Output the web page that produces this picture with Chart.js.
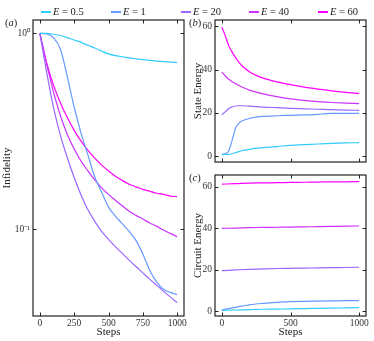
<!DOCTYPE html>
<html><head><meta charset="utf-8">
<script src="https://cdn.jsdelivr.net/npm/chart.js@4/dist/chart.umd.min.js"></script>
<style>
html,body{margin:0;padding:0;background:#fff;}
#wrap{position:relative;width:374px;height:341px;overflow:hidden;font-family:'Liberation Serif',serif;color:#222;}
canvas{position:absolute;left:0;top:0;pointer-events:none;}
.lg{position:absolute;top:5px;height:14px;font-size:10.5px;line-height:14px;white-space:nowrap;}
.sw{position:absolute;left:0;top:6px;width:10px;height:2px;}
.lt{position:absolute;left:12px;top:0;}
.pl{position:absolute;font-size:10.5px;font-family:'Liberation Serif',serif;}
</style></head>
<body><div id="wrap">
<canvas id="ca" width="374" height="341"></canvas>
<canvas id="cb" width="374" height="341"></canvas>
<canvas id="cc" width="374" height="341"></canvas>
<div id="legend"></div>
<div class="pl" style="left:5px;top:17px">(<i>a</i>)</div>
<div class="pl" style="left:189px;top:17px">(<i>b</i>)</div>
<div class="pl" style="left:189px;top:172px">(<i>c</i>)</div>
</div>
<script>
// ---- data ----
const labelsE = ['0.5', '1', '20', '40', '60'];
const colors = ['#33ccff', '#6699ff', '#9966ff', '#cc33ff', '#ff00ff'];

const stepsA = [0,50,100,150,200,250,300,350,400,450,500,550,600,650,700,750,800,850,900,950,1000];
const infE05 = [1.0,1.0,0.99,0.975,0.952,0.925,0.9,0.87,0.842,0.812,0.786,0.77,0.76,0.75,0.742,0.735,0.728,0.722,0.717,0.713,0.71];
const infE1  = [1.0,0.995,0.95,0.83,0.6,0.42,0.31,0.24,0.185,0.155,0.13,0.117,0.107,0.098,0.088,0.075,0.062,0.054,0.0495,0.0478,0.0466];
const infE20 = [1.0,0.631,0.417,0.302,0.232,0.184,0.150,0.126,0.110,0.0977,0.0891,0.0818,0.0755,0.0698,0.0647,0.0601,0.0558,0.052,0.0485,0.0453,0.0424];
const infE40 = [1.0,0.692,0.501,0.380,0.305,0.257,0.223,0.199,0.179,0.163,0.151,0.141,0.132,0.124,0.118,0.113,0.108,0.104,0.0993,0.0955,0.0918];
const infE60 = [1.0,0.708,0.543,0.442,0.372,0.320,0.282,0.253,0.231,0.213,0.199,0.187,0.178,0.170,0.165,0.160,0.157,0.153,0.151,0.148,0.147];

const stepsB = [0,25,50,75,100,125,150,200,250,300,400,500,600,700,750,800,900,1000];
const stE05 = [0.8,0.85,0.9,1.2,1.7,2.2,2.7,3.2,3.8,4.0,4.5,5.1,5.4,5.7,5.85,6.0,6.2,6.3];
const stE1  = [1.0,1.2,2.5,7.5,13.0,15.3,16.4,17.5,18.1,18.4,18.7,18.9,19.1,19.3,19.7,19.8,19.8,19.8];
const stE20 = [19.2,20.5,22.0,22.8,23.2,23.3,23.3,23.1,22.9,22.7,22.4,22.1,21.9,21.7,21.6,21.5,21.3,21.2];
const stE40 = [38.8,37.0,35.5,34.4,33.5,32.6,31.8,30.5,29.6,28.8,27.5,26.5,25.8,25.2,25.0,24.8,24.5,24.3];
const stE60 = [59.5,55.5,51.0,48.0,45.5,43.3,41.5,39.0,37.3,36.0,34.3,33.0,31.9,31.0,30.6,30.2,29.5,28.9];

const stepsC = [0,100,200,300,400,500,600,700,800,900,1000];
const ciE05 = [0.3,0.5,0.7,0.85,0.95,1.05,1.2,1.3,1.4,1.5,1.6];
const ciE1  = [0.6,1.8,3.0,3.7,4.2,4.5,4.7,4.8,4.9,5.0,5.0];
const ciE20 = [19.5,19.8,20.1,20.3,20.5,20.6,20.7,20.8,20.9,21.0,21.1];
const ciE40 = [39.9,40.0,40.2,40.3,40.4,40.5,40.6,40.7,40.8,40.9,41.0];
const ciE60 = [61.2,61.4,61.7,61.8,61.9,62.0,62.1,62.2,62.3,62.3,62.4];

const xTicksA = [0,250,500,750,1000];
const xTicksBC = [0,500,1000];
const yTicksA = [0.1, 1];
const yTickLabelsA = ['10\u207B\u00B9', '10\u2070'];
const yTicksBC = [0,20,40,60];

// ---- legend ----
const legendX = [41, 111, 181, 249, 318];
const lg = document.getElementById('legend');
labelsE.forEach((e,i)=>{
  const d = document.createElement('div');
  d.className='lg'; d.style.left=legendX[i]+'px';
  const sw = document.createElement('div');
  sw.className='sw'; sw.style.backgroundColor = colors[i];
  const t = document.createElement('div');
  t.className='lt'; t.innerHTML = '<i>E</i> = '+e;
  d.appendChild(sw); d.appendChild(t);
  lg.appendChild(d);
});

// ---- charts ----
const FONT = "'Liberation Serif', serif";
Chart.defaults.font.family = FONT;
Chart.defaults.color = '#222';

const frame = {
  id:'frame',
  afterDraw(chart){
    const {ctx, chartArea:a, scales} = chart;
    ctx.save();
    ctx.strokeStyle='#222'; ctx.lineWidth=1;
    const L=3.5;
    const line=(x1,y1,x2,y2)=>{ctx.beginPath();ctx.moveTo(x1,y1);ctx.lineTo(x2,y2);ctx.stroke();};
    scales.x.ticks.forEach(t=>{
      const p=Math.round(scales.x.getPixelForValue(t.value))+0.5;
      line(p,a.bottom,p,a.bottom-L); line(p,a.top,p,a.top+L);
    });
    scales.y.ticks.forEach(t=>{
      const p=Math.round(scales.y.getPixelForValue(t.value))+0.5;
      line(a.left,p,a.left+L,p); line(a.right,p,a.right-L,p);
    });
    ctx.lineWidth=1.2;
    ctx.strokeRect(a.left, a.top, a.right-a.left, a.bottom-a.top);
    ctx.restore();
  }
};

function fixFit(size, horiz){
  return function(s){
    if(horiz) s.height=size; else s.width=size;
    s.paddingLeft=0; s.paddingRight=0; s.paddingTop=0; s.paddingBottom=0;
  };
}

function makeDatasets(xs, series){
  return series.map((ys,i)=>({
    label:'E = '+labelsE[i],
    data: xs.map((x,j)=>({x:x,y:ys[j]})),
    borderColor: colors[i], backgroundColor: colors[i],
    borderWidth:1.2, pointRadius:0, cubicInterpolationMode:'monotone', fill:false
  }));
}

function makeChart(id, cfg){
  return new Chart(document.getElementById(id), {
    type:'line',
    data:{datasets: makeDatasets(cfg.xs, cfg.series)},
    options:{
      responsive:false, animation:false, devicePixelRatio:1,
      layout:{padding:cfg.padding},
      plugins:{legend:{display:false}, tooltip:{enabled:false}},
      scales:{
        x:{type:'linear', min:-50, max:1050,
          afterBuildTicks:(s)=>{s.ticks=cfg.xTicks.map(v=>({value:v}));},
          afterFit: fixFit(cfg.xH, true),
          grid:{display:false, drawTicks:false}, border:{display:false},
          ticks:{display:cfg.xLabels, padding:2, maxRotation:0, autoSkip:false, font:{size:9.5}, color:'#333',
            callback:(v)=>String(v)},
          title:{display:cfg.xLabels, text:'Steps', font:{size:11}, padding:0, color:'#222'}
        },
        y:{type:cfg.yType, min:cfg.yMin, max:cfg.yMax,
          afterBuildTicks:(s)=>{s.ticks=cfg.yTicks.map(v=>({value:v}));},
          afterFit: fixFit(cfg.yW, false),
          grid:{display:false, drawTicks:false}, border:{display:false},
          ticks:{padding:3, autoSkip:false, font:{size:9.5}, color:'#333',
            callback:(v)=>{const k=cfg.yTicks.indexOf(v); return cfg.yTickLabels? cfg.yTickLabels[k] : String(v);}},
          title:{display:true, text:cfg.yTitle, font:{size:11}, padding:{top:1,bottom:0}, color:'#222'}
        }
      }
    },
    plugins:[frame]
  });
}

makeChart('ca', {
  xs: stepsA, series:[infE05, infE1, infE20, infE40, infE60],
  padding:{left:0, top:20, right:190, bottom:2},
  xTicks:xTicksA, xLabels:true, xH:23,
  yType:'logarithmic', yMin:0.0362, yMax:1.17, yTicks:yTicksA, yTickLabels:yTickLabelsA, yW:33,
  yTitle:'Infidelity'
});
makeChart('cb', {
  xs: stepsB, series:[stE05, stE1, stE20, stE40, stE60],
  padding:{left:191, top:20, right:8, bottom:179},
  xTicks:xTicksBC, xLabels:false, xH:0,
  yType:'linear', yMin:-2.6, yMax:62.8, yTicks:yTicksBC, yW:24,
  yTitle:'State Energy'
});
makeChart('cc', {
  xs: stepsC, series:[ciE05, ciE1, ciE20, ciE40, ciE60],
  padding:{left:191, top:175, right:8, bottom:2},
  xTicks:xTicksBC, xLabels:true, xH:23,
  yType:'linear', yMin:-2.4, yMax:65.6, yTicks:yTicksBC, yW:24,
  yTitle:'Circuit Energy'
});
</script>
</body></html>
